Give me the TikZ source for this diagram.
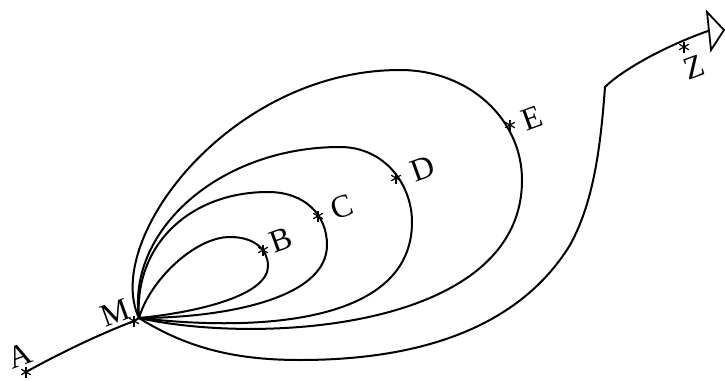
\documentclass[tikz,border=0pt]{standalone}
\usepackage{fontspec}
\setmainfont{Liberation Serif}
\begin{document}
\begin{tikzpicture}[x=1pt,y=-1pt,
  curve/.style={line width=2pt, line join=round, line cap=round},
  lbl/.style={font=\fontsize{32}{34}\selectfont, rotate=20, inner sep=0pt},
  astline/.style={line width=1.2pt}]
\useasboundingbox (0,0) rectangle (725,380);
\newcommand\astmark[1]{\foreach \a in {90,30,150} \draw[astline] (#1) +(\a:5.5) -- +(\a+180:5.5);}
% points
\coordinate (A) at (26,372);
\coordinate (M) at (134,321);
\coordinate (Mc) at (139,318);
\coordinate (B) at (263,250);
\coordinate (C) at (318,216);
\coordinate (D) at (396,178);
\coordinate (E) at (510,125);
\coordinate (Z) at (684,47);
\coordinate (K) at (605,87);
\coordinate (Zend) at (708,31);
% labels
\node[lbl] (lA) at (20,356) {A};
\node[lbl] (lM) at (115,313) {M};
\node[lbl] (lB) at (281,240) {B};
\node[lbl] (lC) at (342,207) {C};
\node[lbl] (lD) at (423,169) {D};
\node[lbl] (lE) at (532,118) {E};
\node[lbl] (lZ) at (694,67) {Z};
% A to M
\draw[curve] (A) .. controls (60,353) and (100,334) .. (M) -- (Mc);
% loop B
\draw[curve] (Mc) .. controls (150,280) and (195,237) .. (230,237)
  .. controls (255,237) and (268,250) .. (268,266)
  .. controls (268,295) and (200,312) .. (Mc);
% loop C
\draw[curve] (Mc) .. controls (134,245) and (190,192) .. (268,192)
  .. controls (305,192) and (327,215) .. (327,245)
  .. controls (327,300) and (220,318) .. (Mc);
% loop D
\draw[curve] (Mc) .. controls (127,230) and (220,147) .. (340,147)
  .. controls (385,147) and (412,185) .. (412,222)
  .. controls (412,330) and (240,330) .. (Mc);
% loop E
\draw[curve] (Mc) .. controls (102,240) and (230,70) .. (400,70)
  .. controls (470,70) and (522,120) .. (522,180)
  .. controls (522,330) and (260,345) .. (Mc);
% path to Z
\draw[curve] (Mc) .. controls (190,350) and (240,360) .. (300,360)
  .. controls (450,360) and (530,310) .. (570,245)
  .. controls (595,200) and (601,140) .. (K)
  .. controls (620,72) and (660,48) .. (Zend);
% open arrow head
\draw[line width=1.8pt, line join=miter] (707,12) -- (724,30) -- (711,50) -- cycle;
% star marks
\astmark{A}
\astmark{M}
\astmark{B}
\astmark{C}
\astmark{D}
\astmark{E}
\astmark{Z}
\end{tikzpicture}
\end{document}
